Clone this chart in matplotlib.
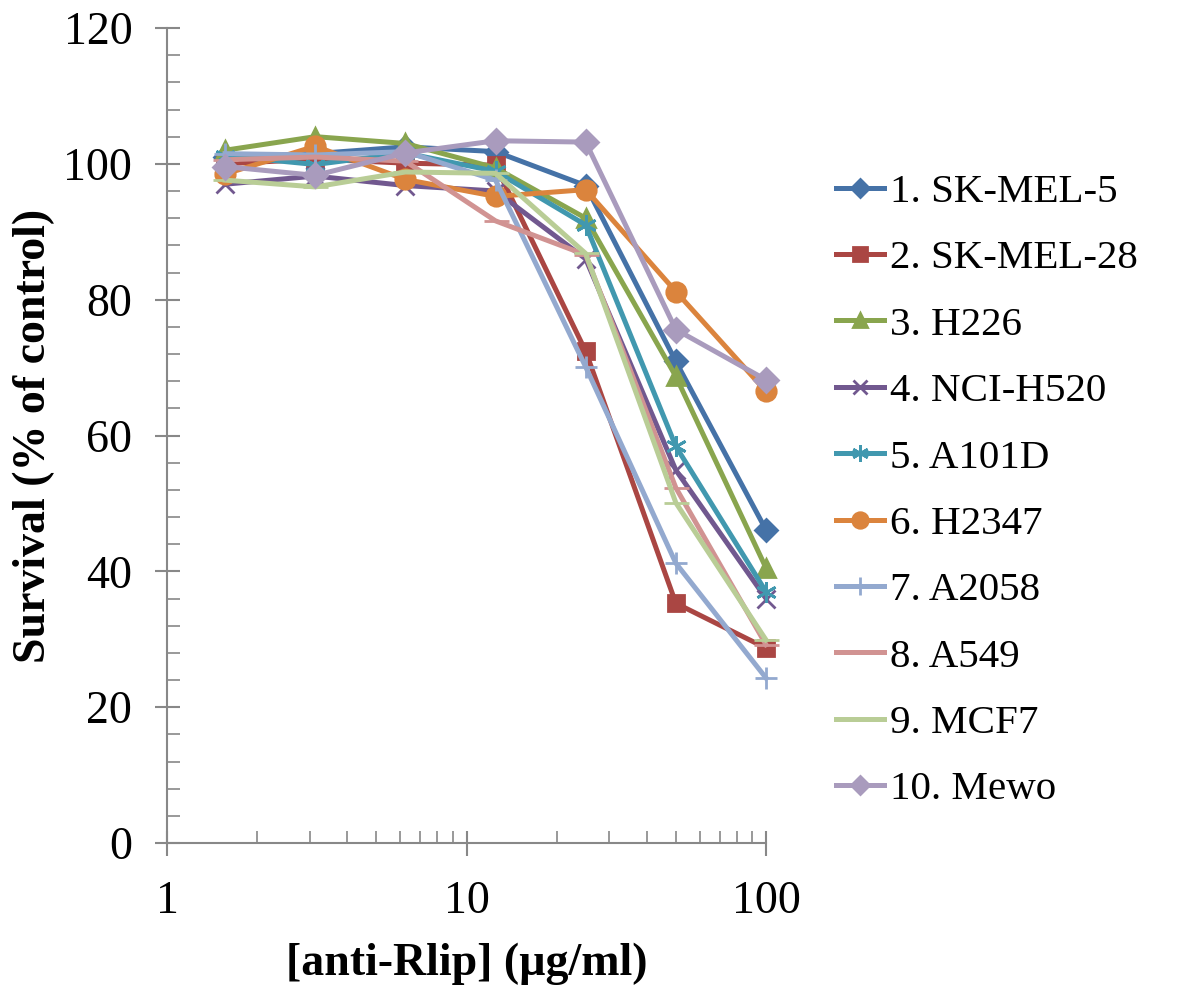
import matplotlib
matplotlib.use("Agg")
import matplotlib.pyplot as plt
from matplotlib.ticker import FixedLocator, MultipleLocator, NullFormatter, FixedFormatter

plt.rcParams['font.family'] = ['Liberation Serif', 'DejaVu Serif']

conc = [1.5625, 3.125, 6.25, 12.5, 25, 50, 100]
labels = ["1. SK-MEL-5", "2. SK-MEL-28", "3. H226", "4. NCI-H520", "5. A101D",
          "6. H2347", "7. A2058", "8. A549", "9. MCF7", "10. Mewo"]
sk_mel_5 = [101.0, 101.5, 102.5, 101.8, 96.8, 70.9, 46.1]
sk_mel_28 = [100.0, 100.7, 100.1, 99.8, 72.4, 35.3, 28.7]
h226 = [102.0, 104.0, 103.0, 99.4, 92.0, 68.7, 40.5]
nci_h520 = [97.0, 98.2, 96.8, 96.0, 86.0, 54.9, 36.0]
a101d = [101.2, 99.9, 101.6, 98.9, 91.0, 58.4, 37.0]
h2347 = [98.5, 102.6, 97.7, 95.2, 96.2, 81.2, 66.5]
a2058 = [101.5, 101.3, 101.8, 97.6, 70.1, 41.2, 24.3]
a549 = [100.6, 101.0, 100.4, 91.6, 86.6, 52.3, 29.2]
mcf7 = [97.6, 96.6, 98.8, 98.6, 86.8, 50.1, 29.9]
mewo = [99.6, 98.3, 101.6, 103.4, 103.2, 75.6, 68.2]
series = [sk_mel_5, sk_mel_28, h226, nci_h520, a101d, h2347, a2058, a549, mcf7, mewo]

colors = ["#4572A7", "#AA4643", "#89A54E", "#71588F", "#4198AF",
          "#DB843D", "#93A9CF", "#D19392", "#B9CD96", "#A99BBD"]
markers = ["D", "s", "^", "x", (6, 2, 0), "o", "+", "_", "_", "D"]
msizes = [11, 12, 13, 13, 15, 14, 16, 18, 18, 12]

fig = plt.figure(figsize=(11.8, 9.86), dpi=100)
ax = fig.add_axes([167/1180, 143/986, (766-167)/1180, (843-28)/986])

for vals, lab, c, m, ms in zip(series, labels, colors, markers, msizes):
    ax.plot(conc, vals, color=c, lw=3.6, marker=m, ms=ms, mfc=c, mec=c,
            mew=2.0, label=lab, solid_joinstyle='round', clip_on=False)

ax.set_xscale('log')
ax.set_xlim(1, 100)
ax.set_ylim(0, 120)

ax.xaxis.set_major_locator(FixedLocator([1, 10, 100]))
ax.xaxis.set_major_formatter(FixedFormatter(["1", "10", "100"]))
ax.xaxis.set_minor_locator(FixedLocator([2, 3, 4, 5, 6, 7, 8, 9, 20, 30, 40, 50, 60, 70, 80, 90]))
ax.xaxis.set_minor_formatter(NullFormatter())
ax.yaxis.set_major_locator(MultipleLocator(20))
ax.yaxis.set_minor_locator(MultipleLocator(4))

for s in ['top', 'right']:
    ax.spines[s].set_visible(False)
for s in ['left', 'bottom']:
    ax.spines[s].set_color('#888888')
    ax.spines[s].set_linewidth(1.5)

ax.tick_params(axis='both', which='major', direction='inout', length=18, width=1.5,
               color='#888888', labelsize=33)
ax.tick_params(axis='both', which='minor', direction='in', length=9, width=1.2,
               color='#888888')
ax.tick_params(axis='x', which='major', pad=18)
ax.tick_params(axis='y', which='major', pad=16)

ax.set_xlabel("[anti-Rlip] (\u00b5g/ml)", fontsize=33, fontweight='bold', labelpad=14)
ax.set_ylabel("Survival (% of control)", fontsize=33, fontweight='bold', labelpad=6)

fig.legend(loc='upper left', bbox_to_anchor=(820/1180, 1 - 157/986), frameon=False,
           fontsize=29.5, handlelength=1.15, handletextpad=0.15, labelspacing=0.7,
           borderaxespad=0, markerscale=0.8)

fig.savefig("out.png", dpi=100)
